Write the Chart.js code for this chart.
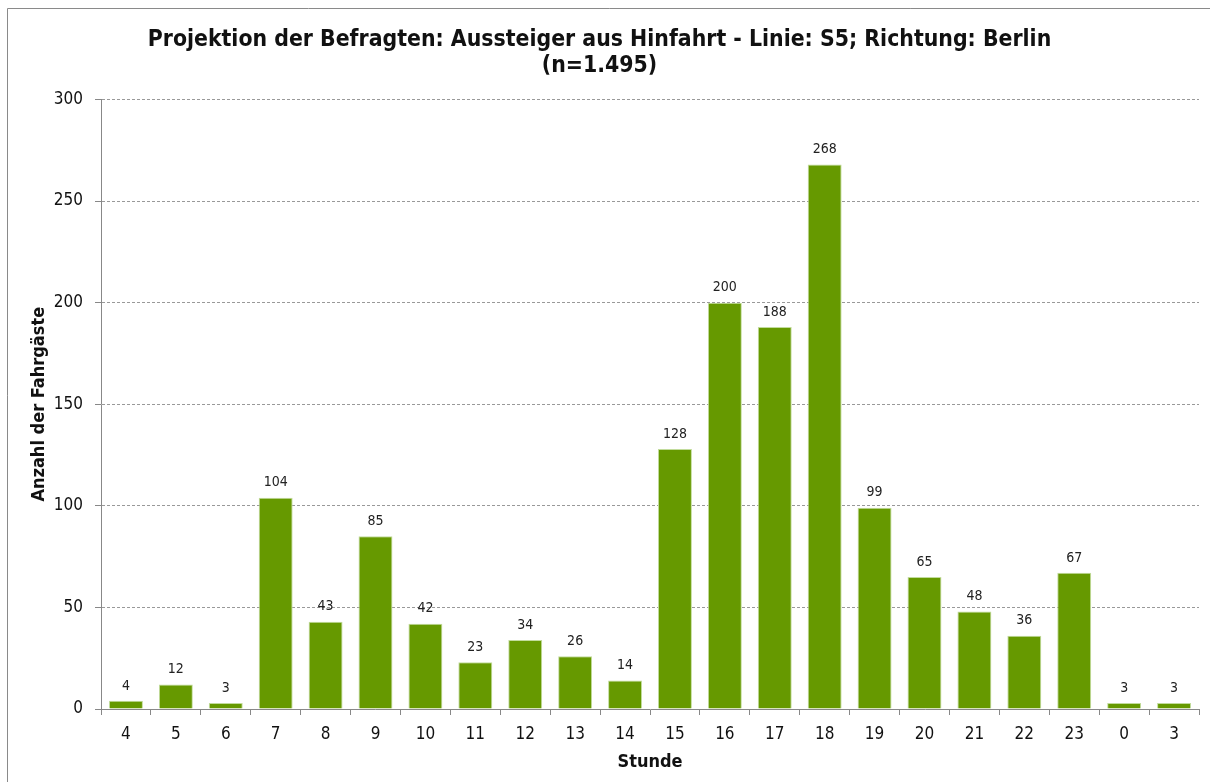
<!DOCTYPE html>
<html><head><meta charset="utf-8">
<script src="https://cdn.jsdelivr.net/npm/chart.js@4/dist/chart.umd.min.js"></script>
<style>html,body{margin:0;padding:0;background:#fff}#wrap{width:1210px;height:782px}</style>
</head><body><div id="wrap"><canvas id="c" width="1210" height="782"></canvas></div>
<script>
const categories = ["4","5","6","7","8","9","10","11","12","13","14","15","16","17","18","19","20","21","22","23","0","3"];
const values = [4,12,3,104,43,85,42,23,34,26,14,128,200,188,268,99,65,48,36,67,3,3];
const yTicks = [0,50,100,150,200,250,300];
const titleLines = ["Projektion der Befragten: Aussteiger aus Hinfahrt - Linie: S5; Richtung: Berlin","(n=1.495)"];

const FONT = "'DejaVu Sans Condensed','DejaVu Sans',sans-serif";

const frame = {
  id:'frame',
  beforeDraw(chart){
    const c=chart.ctx; c.save(); c.strokeStyle='#8a8a8a'; c.lineWidth=1;
    c.beginPath(); c.moveTo(7.5,790); c.lineTo(7.5,8.5); c.lineTo(1220,8.5); c.stroke(); c.restore();
  }
};
const labels = {
  id:'labels',
  afterDatasetsDraw(chart){
    const c=chart.ctx; const meta=chart.getDatasetMeta(0);
    c.save(); c.font="14px "+FONT; c.fillStyle='#222'; c.textAlign='center'; c.textBaseline='bottom';
    meta.data.forEach((el,i)=>{ c.fillText(String(values[i]), el.x, el.y-8); });
    c.restore();
  }
};

new Chart(document.getElementById('c'),{
  type:'bar',
  data:{labels:categories,datasets:[{data:values,backgroundColor:'#669900',borderColor:'#c2dc9c',borderWidth:1,borderSkipped:'bottom',barPercentage:0.68,categoryPercentage:1}]},
  options:{
    responsive:false,animation:false,
    layout:{padding:{left:0,right:11,top:0,bottom:9}},
    plugins:{
      legend:{display:false},tooltip:{enabled:false},
      title:{display:true,text:titleLines,color:'#111',font:{family:FONT,size:22.8,weight:'bold',lineHeight:1.15},padding:{top:27,bottom:20}}
    },
    scales:{
      x:{
        offset:true,
        grid:{display:true,drawOnChartArea:false,drawTicks:true,tickLength:6,offset:true,color:'#888'},
        border:{display:true,color:'#888'},
        ticks:{color:'#111',font:{family:FONT,size:17},padding:9},
        title:{display:true,text:'Stunde',color:'#111',font:{family:FONT,size:18,weight:'bold'},padding:{top:0,bottom:0}},
        afterFit(s){s.height=782-709-9;}
      },
      y:{
        min:0,max:300,
        afterBuildTicks(s){s.ticks=yTicks.map(v=>({value:v}));},
        grid:{color:'#999',tickBorderDash:[],tickLength:6,tickColor:'#888',lineWidth:1},
        border:{display:true,color:'#888',dash:[3,2]},
        ticks:{color:'#111',font:{family:FONT,size:17},padding:12},
        title:{display:true,text:'Anzahl der Fahrgäste',color:'#111',font:{family:FONT,size:18,weight:'bold'},padding:{top:29,bottom:0}},
        afterFit(s){s.width=101;}
      }
    }
  },
  plugins:[frame,labels]
});
</script></body></html>
